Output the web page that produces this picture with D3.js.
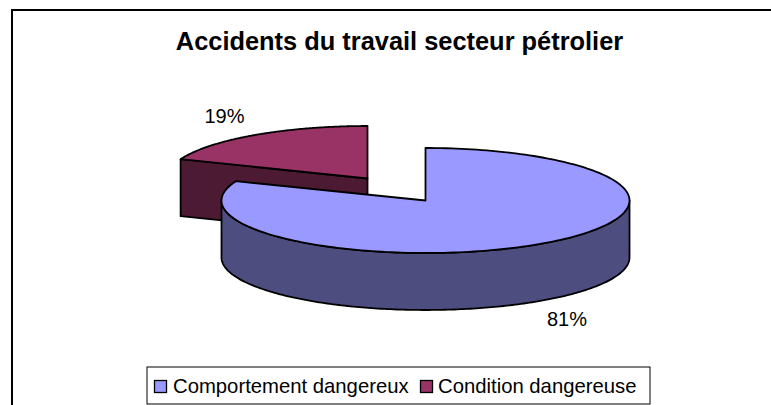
<!DOCTYPE html>
<html><head><meta charset="utf-8">
<script src="https://cdn.jsdelivr.net/npm/d3@7"></script>
<style>html,body{margin:0;background:#fff;overflow:hidden}svg{display:block}text{font-family:"Liberation Sans",Arial,sans-serif;fill:#000}</style>
</head><body><svg id="c" width="771" height="405"></svg>
<script>
const categories = ["Comportement dangereux", "Condition dangereuse"];
const values = [81, 19];
const percentLabels = ["81%", "19%"];
const topColors = ["#9999ff", "#993366"];
const sideColors = ["#4d4d80", "#4d1a33"];
const titleText = "Accidents du travail secteur pétrolier";

const svg = d3.select("#c");
const radii = [204, 201], ry = 52.5, depth = 57;
const centers = [[425.5, 200.5], [367.5, 178.5]];

svg.append("rect").attr("x", 12).attr("y", 10).attr("width", 800).attr("height", 420)
  .attr("fill", "#fff").attr("stroke", "#000").attr("stroke-width", 2);

svg.append("text").attr("x", 399.5).attr("y", 50).attr("text-anchor", "middle")
  .attr("font-weight", "bold").attr("font-size", 25.4).text(titleText);

const arcs = d3.pie().sort(null)(values);
const sy = d3.scaleLinear().domain([-1, 1]).range([-ry, ry]);
const px = (c, a, rx) => c[0] + d3.scaleLinear().domain([-1, 1]).range([-rx, rx])(Math.sin(a));
const py = (c, a, dz = 0) => c[1] + sy(-Math.cos(a)) + dz;
const line = d3.line();
const angles = (a0, a1) => { const n = 200; return d3.range(n + 1).map(i => a0 + (a1 - a0) * i / n); };
const rim = (c, a0, a1, rx, dz = 0) => angles(a0, a1).map(a => [px(c, a, rx), py(c, a, dz)]);
const stroke = sel => sel.attr("stroke", "#000").attr("stroke-width", 1.8).attr("stroke-linejoin", "round");

function drawSlice(i) {
  const s = arcs[i], c = centers[i], rx = radii[i];
  const a0 = s.startAngle, a1 = s.endAngle;
  if (i === 1) {
    const e = [px(c, a0, rx), py(c, a0)];
    stroke(svg.append("path").attr("fill", sideColors[i]).attr("d", line([
      c, e, [e[0], e[1] + depth], [c[0], c[1] + depth]]) + "Z"));
  } else {
    const from = Math.PI / 2, to = 3 * Math.PI / 2;
    const pts = rim(c, from, to, rx).concat(rim(c, to, from, rx, depth));
    stroke(svg.append("path").attr("fill", sideColors[i]).attr("d", line(pts) + "Z"));
  }
  stroke(svg.append("path").attr("fill", topColors[i]).attr("d", line([c, ...rim(c, a0, a1, rx)]) + "Z"));
}
drawSlice(1);
drawSlice(0);

const labelPos = [[567, 326], [224.5, 123]];
percentLabels.forEach((t, i) => svg.append("text").attr("x", labelPos[i][0]).attr("y", labelPos[i][1])
  .attr("text-anchor", "middle").attr("font-size", 20).attr("fill", "#222").text(t));

svg.append("rect").attr("x", 147).attr("y", 367).attr("width", 503).attr("height", 37)
  .attr("fill", "#fff").attr("stroke", "#000").attr("stroke-width", 1);
const lx = [154.5, 420.5];
const tx = [173, 438];
categories.forEach((t, i) => {
  svg.append("rect").attr("x", lx[i]).attr("y", 380.5).attr("width", 12).attr("height", 12)
    .attr("fill", topColors[i]).attr("stroke", "#000").attr("stroke-width", 1.3);
  svg.append("text").attr("x", tx[i]).attr("y", 392.5).attr("font-size", 20.3).text(t);
});
</script></body></html>
